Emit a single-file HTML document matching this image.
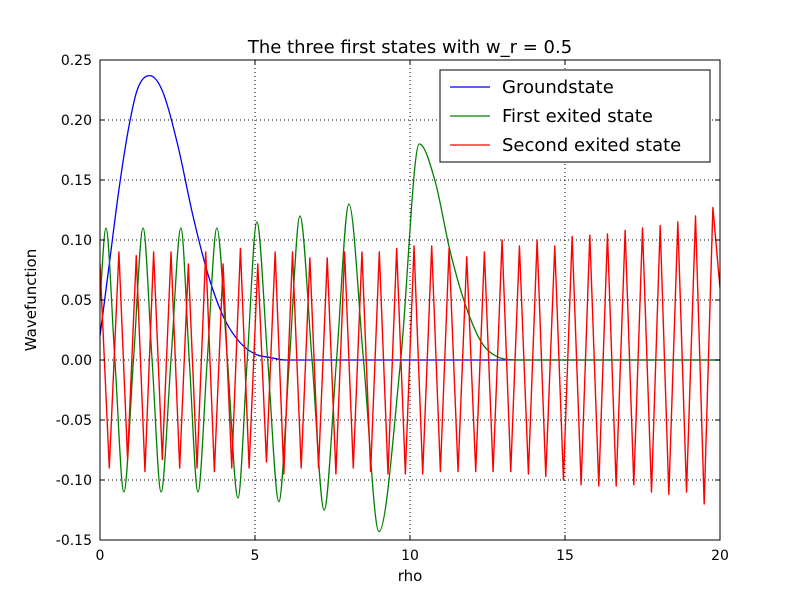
<!DOCTYPE html>
<html><head><meta charset="utf-8"><style>
body{margin:0;background:#fff;font-family:"Liberation Sans","DejaVu Sans",sans-serif}
svg text{font-family:"DejaVu Sans","Liberation Sans",sans-serif}
</style></head><body>
<svg id="chart" width="800" height="600" xmlns="http://www.w3.org/2000/svg">
<rect width="800" height="600" fill="#fff"/>
<g id="grid"></g>
<g id="series"></g>
<rect x="100" y="60" width="620" height="480" fill="none" stroke="#000" stroke-width="1"/>
<g id="ticks"></g>
<text x="410" y="53" font-size="18" text-anchor="middle">The three first states with w_r = 0.5</text>
<text x="410" y="581" font-size="15" text-anchor="middle">rho</text>
<text x="36" y="300" font-size="15" text-anchor="middle" transform="rotate(-90 36 300)">Wavefunction</text>
<g>
<rect x="440" y="70" width="270" height="92" fill="#fff" stroke="#000"/>
<line x1="450" y1="87" x2="490" y2="87" stroke="#0000ff" stroke-width="1.3"/>
<text x="502" y="93" font-size="18">Groundstate</text>
<line x1="450" y1="116" x2="490" y2="116" stroke="#008000" stroke-width="1.3"/>
<text x="502" y="122" font-size="18">First exited state</text>
<line x1="450" y1="145" x2="490" y2="145" stroke="#ff0000" stroke-width="1.3"/>
<text x="502" y="151" font-size="18">Second exited state</text>
</g>
</svg>
<script>
const xTicks=[0,5,10,15,20];
const yTicks=[-0.15,-0.10,-0.05,0.00,0.05,0.10,0.15,0.20,0.25];
const groundRho=[0,0.3,0.6,0.9,1.2,1.6,2.0,2.5,3.0,3.5,4.0,4.5,5.0,5.5,6.0,20];
const groundVal=[0.02,0.08,0.14,0.19,0.225,0.237,0.225,0.18,0.12,0.07,0.035,0.015,0.005,0.002,0,0];
const firstRho=[0,0.19,0.48,0.77,1.08,1.39,1.68,1.97,2.29,2.61,2.88,3.16,3.46,3.77,4.11,4.45,4.75,5.06,5.41,5.77,6.11,6.45,6.84,7.23,7.63,8.03,8.5,9.0,9.7,10.3,10.8,11.3,11.8,12.3,12.8,13.5,20];
const firstVal=[0.05,0.11,0,-0.11,0,0.11,0,-0.11,0,0.11,0,-0.11,0,0.11,0,-0.115,0,0.115,0,-0.118,0,0.12,0,-0.125,0,0.13,0,-0.143,0,0.18,0.15,0.09,0.045,0.015,0.003,0,0];
const secondRho=[0,0.3,0.61,0.89,1.17,1.45,1.73,2.01,2.29,2.57,2.85,3.13,3.41,3.69,3.97,4.25,4.53,4.81,5.09,5.37,5.65,5.93,6.21,6.49,6.77,7.05,7.33,7.61,7.89,8.17,8.45,8.73,9.01,9.29,9.57,9.85,10.13,10.41,10.70,10.98,11.26,11.55,11.83,12.12,12.40,12.68,12.97,13.25,13.53,13.82,14.10,14.38,14.67,14.95,15.23,15.52,15.80,16.09,16.37,16.65,16.94,17.22,17.50,17.79,18.07,18.35,18.64,18.92,19.21,19.49,19.77,20];
const secondVal=[0.08,-0.09,0.09,-0.083,0.087,-0.093,0.09,-0.083,0.09,-0.09,0.08,-0.09,0.09,-0.093,0.08,-0.09,0.093,-0.09,0.08,-0.085,0.09,-0.095,0.09,-0.09,0.085,-0.09,0.085,-0.095,0.09,-0.09,0.09,-0.093,0.09,-0.095,0.093,-0.095,0.095,-0.095,0.095,-0.093,0.093,-0.093,0.086,-0.093,0.09,-0.093,0.1,-0.093,0.095,-0.095,0.1,-0.097,0.095,-0.1,0.103,-0.104,0.104,-0.105,0.105,-0.105,0.108,-0.104,0.11,-0.11,0.112,-0.112,0.115,-0.11,0.12,-0.12,0.127,0.06];

const NS='http://www.w3.org/2000/svg';
const X0=100,X1=720,Y0=540,Y1=60,xmin=0,xmax=20,ymin=-0.15,ymax=0.25;
function sx(v){return X0+(v-xmin)/(xmax-xmin)*(X1-X0);}
function sy(v){return Y0-(v-ymin)/(ymax-ymin)*(Y0-Y1);}
function mk(tag,attrs,parent){const e=document.createElementNS(NS,tag);for(const k in attrs)e.setAttribute(k,attrs[k]);parent.appendChild(e);return e;}
const grid=document.getElementById('grid'),ticks=document.getElementById('ticks'),ser=document.getElementById('series');
xTicks.forEach(t=>{
  const x=sx(t);
  const g=mk('line',{x1:x,y1:Y1,x2:x,y2:Y0,stroke:'#000','stroke-dasharray':'1,3','stroke-width':1},grid);
  
  
  mk('line',{x1:x,y1:Y0,x2:x,y2:Y0-5,stroke:'#000'},ticks);
  mk('line',{x1:x,y1:Y1,x2:x,y2:Y1+5,stroke:'#000'},ticks);
  const l=mk('text',{x:x,y:Y0+20,'font-size':14,'text-anchor':'middle'},ticks);
  l.textContent=String(t);
  
  
});
yTicks.forEach(t=>{
  const y=sy(t);
  const g=mk('line',{x1:X0,y1:y,x2:X1,y2:y,stroke:'#000','stroke-dasharray':'1,3','stroke-width':1},grid);
  
  
  mk('line',{x1:X0,y1:y,x2:X0+5,y2:y,stroke:'#000'},ticks);
  mk('line',{x1:X1,y1:y,x2:X1-5,y2:y,stroke:'#000'},ticks);
  const l=mk('text',{x:X0-8,y:y+5,'font-size':14,'text-anchor':'end'},ticks);
  l.textContent=t.toFixed(2);
  
  
});
// monotone cubic (Fritsch-Carlson) - no overshoot
function smoothPath(xs,ys){
  const p=xs.map((v,i)=>[sx(v),sy(ys[i])]);
  const n=p.length,d=[],m=[];
  for(let i=0;i<n-1;i++)d.push((p[i+1][1]-p[i][1])/(p[i+1][0]-p[i][0]));
  m[0]=d[0];m[n-1]=d[n-2];
  for(let i=1;i<n-1;i++){m[i]=(d[i-1]*d[i]<=0)?0:(d[i-1]+d[i])/2;}
  for(let i=0;i<n-1;i++){
    if(d[i]===0){m[i]=0;m[i+1]=0;continue;}
    const a=m[i]/d[i],b=m[i+1]/d[i],s=a*a+b*b;
    if(s>9){const t=3/Math.sqrt(s);m[i]=t*a*d[i];m[i+1]=t*b*d[i];}
  }
  let path='M'+p[0][0]+','+p[0][1];
  for(let i=0;i<n-1;i++){
    const h=(p[i+1][0]-p[i][0])/3;
    path+=' C'+(p[i][0]+h)+','+(p[i][1]+m[i]*h)+' '+(p[i+1][0]-h)+','+(p[i+1][1]-m[i+1]*h)+' '+p[i+1][0]+','+p[i+1][1];
  }
  return path;
}
function linePath(xs,ys){return xs.map((v,i)=>(i?'L':'M')+sx(v)+','+sy(ys[i])).join(' ');}
const clip=mk('clipPath',{id:'pc'},ser);mk('rect',{x:X0,y:Y1,width:X1-X0,height:Y0-Y1},clip);
const pg=mk('path',{d:smoothPath(groundRho,groundVal),fill:'none',stroke:'#0000ff','stroke-width':1.3,'clip-path':'url(#pc)'},ser);


const pf=mk('path',{d:smoothPath(firstRho,firstVal),fill:'none',stroke:'#008000','stroke-width':1.3,'clip-path':'url(#pc)'},ser);


const ps=mk('path',{d:linePath(secondRho,secondVal),fill:'none',stroke:'#ff0000','stroke-width':1.4,'stroke-linejoin':'round','clip-path':'url(#pc)'},ser);


</script>
</body></html>
